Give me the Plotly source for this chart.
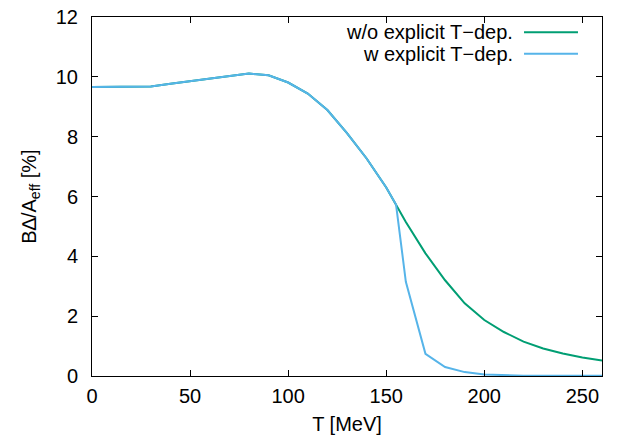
import plotly.graph_objects as go

# Data
T_vals = [0, 10, 20, 30, 40, 50, 60, 70, 80, 90, 100, 110, 120, 130, 140, 150, 155,
          160, 170, 180, 190, 200, 210, 220, 230, 240, 250, 260]
wo_explicit = [9.66, 9.67, 9.67, 9.68, 9.77, 9.85, 9.95, 10.02, 10.11, 10.05, 9.81, 9.44, 8.89,
               8.12, 7.27, 6.3, 5.73,
               5.15, 4.1, 3.2, 2.43, 1.87, 1.47, 1.15, 0.92, 0.75, 0.62, 0.52]
w_explicit = [9.66, 9.67, 9.67, 9.68, 9.77, 9.85, 9.95, 10.02, 10.11, 10.05, 9.81, 9.44, 8.89,
              8.12, 7.27, 6.3, 5.73,
              3.15, 0.74, 0.3, 0.13, 0.05, 0.02, 0.01, 0.01, 0.01, 0.01, 0.01]

series_names = ["w/o explicit T\u2212dep.", "w explicit T\u2212dep."]
series_colors = ["#009e73", "#56b4e9"]
x_ticks = [0, 50, 100, 150, 200, 250]
y_ticks = [0, 2, 4, 6, 8, 10, 12]

FONT = "Liberation Sans, Arial, Helvetica, sans-serif"
FS = 20

fig = go.Figure()
for name, vals, col in zip(series_names, [wo_explicit, w_explicit], series_colors):
    fig.add_trace(go.Scatter(x=T_vals, y=vals, mode="lines", name=name,
                             line=dict(color=col, width=2), showlegend=False))

# Manual legend (gnuplot style: text right-aligned, sample line on the right)
legend_y = [0.9575, 0.8975]
for name, col, ly in zip(series_names, series_colors, legend_y):
    fig.add_annotation(xref="paper", yref="paper", x=0.8249, y=ly, text=name,
                       showarrow=False, xanchor="right", yanchor="middle",
                       borderpad=0, borderwidth=0,
                       font=dict(family=FONT, size=FS, color="black"))
    fig.add_shape(type="line", xref="paper", yref="paper", x0=0.8471, x1=0.9529,
                  y0=ly, y1=ly, line=dict(color=col, width=2))

axis_common = dict(showgrid=False, zeroline=False, showline=True, linecolor="black",
                   linewidth=1, mirror="ticks", ticks="inside", ticklen=6,
                   tickcolor="black", tickwidth=1, automargin=False,
                   tickfont=dict(family=FONT, size=FS, color="black"))

fig.update_xaxes(range=[0, 260], tickvals=x_ticks, ticklabelstandoff=2,
                 title=dict(text="T [MeV]", font=dict(family=FONT, size=FS, color="black"),
                            standoff=10),
                 **axis_common)
fig.update_yaxes(range=[0, 12], tickvals=y_ticks, ticklabelstandoff=9,
                 title=dict(text="B\u2206/A<sub>eff</sub> [%]",
                            font=dict(family=FONT, size=FS, color="black"), standoff=13),
                 **axis_common)

fig.update_layout(width=623, height=441, margin=dict(l=92, r=21, t=17, b=65),
                  plot_bgcolor="white", paper_bgcolor="white",
                  font=dict(family=FONT, size=FS, color="black"))

fig.write_html("out.html")
